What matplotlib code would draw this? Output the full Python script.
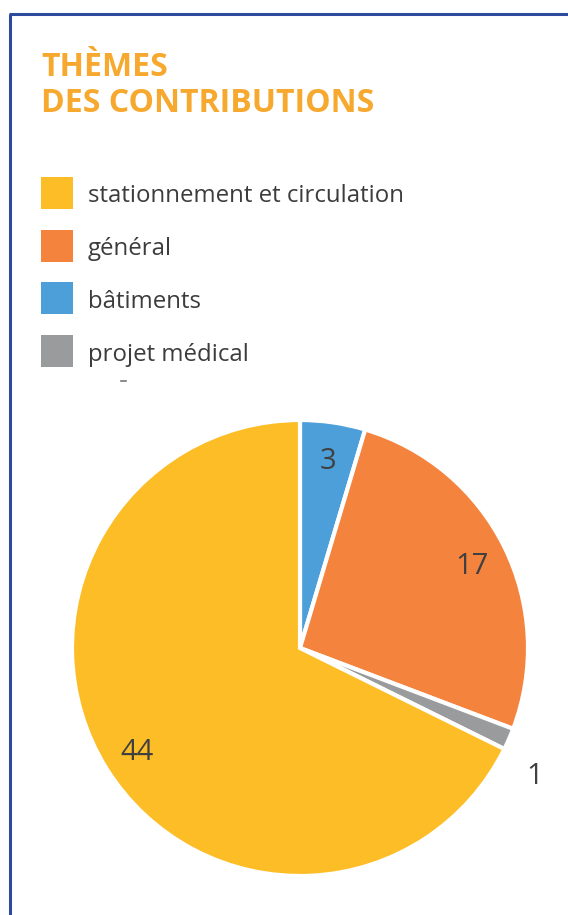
import matplotlib
matplotlib.use("Agg")
import matplotlib.pyplot as plt
from matplotlib.patches import Rectangle
from matplotlib.lines import Line2D
import numpy as np

W, H = 568, 915
title_lines = ["THÈMES", "DES CONTRIBUTIONS"]
legend_labels = ["stationnement et circulation", "général", "bâtiments", "projet médical"]
legend_colors = ["#FDBD26", "#F3833D", "#4D9FD9", "#999B9D"]

# pie order (clockwise from top)
pie_labels = ["bâtiments", "général", "projet médical", "stationnement et circulation"]
pie_values = [3, 17, 1, 44]
pie_colors = ["#4D9FD9", "#F3833D", "#999B9D", "#FDBD26"]

fig = plt.figure(figsize=(W / 100, H / 100), dpi=100)
fig.patch.set_facecolor("white")

def px(x, y):
    return x / W, 1 - y / H

# border
border_col = "#2D4A9C"
fig.add_artist(Line2D([9.7 / W, 9.7 / W], [0, 1 - 13.5 / H], transform=fig.transFigure,
                      color=border_col, lw=2.2, solid_capstyle="butt"))
fig.add_artist(Line2D([8.5 / W, 1], [1 - 13.5 / H, 1 - 13.5 / H], transform=fig.transFigure,
                      color=border_col, lw=2.2, solid_capstyle="butt"))

# title
title_col = "#F6A92E"
for i, t in enumerate(title_lines):
    x, y = px(41, 76 + i * 36.5)
    fig.text(x, y, t, color=title_col, fontsize=23, fontweight="bold",
             family=["Open Sans", "DejaVu Sans"], va="baseline", ha="left")

# legend
for i, (lab, col) in enumerate(zip(legend_labels, legend_colors)):
    top = 177 + i * 52.7
    x0, y0 = px(41, top + 32)
    fig.add_artist(Rectangle((x0, y0), 32 / W, 32 / H, transform=fig.transFigure,
                             facecolor=col, edgecolor="none"))
    tx, ty = px(88, top + 25.5)
    fig.text(tx, ty, lab, color="#3C3C3C", fontsize=17.3, fontweight="normal",
             family=["Open Sans", "DejaVu Sans"], va="baseline", ha="left")

# small artifact dash
fig.add_artist(Line2D([121 / W, 126 / W], [1 - 381 / H] * 2, transform=fig.transFigure,
                      color="#777777", lw=1.2))

# pie
cx, cy, r = 300, 648, 228
ax = fig.add_axes([(cx - r) / W, (H - cy - r) / H, 2 * r / W, 2 * r / H])
wedges, _ = ax.pie(pie_values, colors=pie_colors, startangle=90, counterclock=False,
                   wedgeprops=dict(edgecolor="white", linewidth=3))
ax.set_xlim(-1, 1)
ax.set_ylim(-1, 1)
ax.set_aspect("auto")
ax.axis("off")

for w, v in zip(wedges, pie_values):
    mid = np.deg2rad((w.theta1 + w.theta2) / 2)
    if v < 2:
        mid -= np.deg2rad(4.5)
        d = 1.165
    else:
        d = 0.84
    ax.text(d * np.cos(mid), d * np.sin(mid), str(v), ha="center", va="center_baseline",
            fontsize=21, color="#404040", family=["Open Sans", "DejaVu Sans"])

fig.savefig("out.png", dpi=100, facecolor="white")
